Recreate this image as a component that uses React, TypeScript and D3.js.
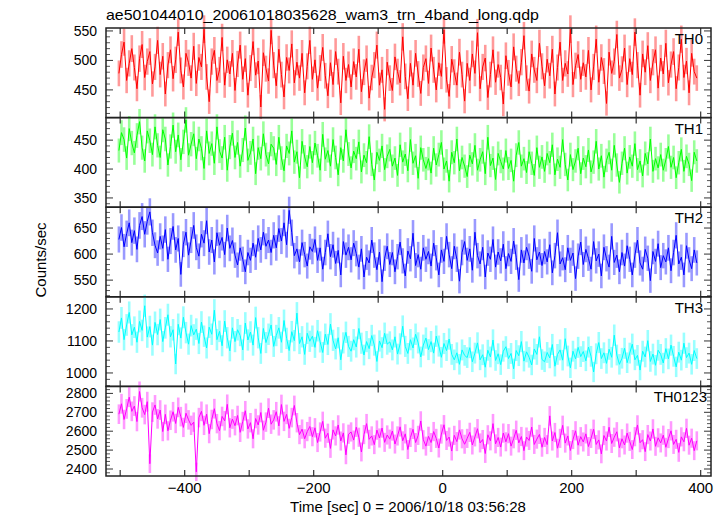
import React from "react";
import * as d3 from "d3";

const TITLE = "ae501044010_20061018035628_wam3_trn_4band_long.qdp";
const X_LABEL = "Time [sec] 0 = 2006/10/18 03:56:28";
const Y_LABEL = "Counts/sec";
const T_START = -502;
const T_STEP = 4;
const X_TICKS = [-500, -400, -300, -200, -100, 0, 100, 200, 300, 400];
const X_TICK_LABELS = [-400, -200, 0, 200, 400];

const th0 = [
  478, 510, 531, 466, 495, 520, 488, 452, 503, 527, 471, 498, 515, 460, 489,
  534, 476, 507, 443, 492, 518, 469, 501, 548, 483, 455, 512, 496, 470, 524,
  461, 505, 489, 553, 472, 430, 498, 517, 466, 484, 539, 458, 501, 477, 512,
  449, 494, 526, 468, 503, 441, 487, 532, 475, 499, 421, 513, 486, 465, 551,
  492, 457, 519, 476, 438, 505, 483, 528, 462, 497, 470, 512, 445, 490, 534,
  468, 501, 453, 487, 522, 474, 440, 496, 459, 515, 481, 428, 507, 466, 493,
  455, 498, 472, 519, 447, 480, 503, 436, 471, 492, 526, 458, 484, 417, 497,
  470, 449, 506, 481, 462, 540, 473, 435, 495, 458, 512, 477, 444, 488, 503,
  461, 521, 484, 450, 496, 473, 552, 467, 439, 502, 480, 458, 514, 476, 431,
  495, 466, 511, 478, 547, 452, 489, 504, 437, 476, 518, 463, 493, 471, 426,
  508, 479, 455, 523, 486, 461, 497, 542, 470, 448, 511, 484, 466, 529, 490,
  457, 502, 474, 519, 443, 488, 531, 466, 495, 477, 553, 459, 491, 510, 468,
  496, 472, 517, 450, 489, 536, 463, 505, 482, 427, 514, 478, 498, 544, 470,
  485, 521, 459, 503, 476, 548, 492, 441, 511, 480, 525, 466, 497, 518, 453,
  504, 477, 529, 462, 493, 515, 452, 488, 536, 471, 499, 445, 512, 481, 470,
];

const th1 = [
  432, 463, 451, 419, 470, 445, 428, 458, 482, 437, 414, 466, 449, 425, 473,
  441, 420, 468, 452, 407, 439, 476, 430, 459, 416, 447, 485, 424, 443, 461,
  418, 452, 436, 401, 466, 427, 444, 410, 473, 431, 419, 455, 398, 438, 462,
  420, 446, 405, 433, 471, 415, 428, 452, 392, 437, 418, 461, 425, 409, 443,
  436, 408, 455, 419, 397, 440, 427, 466, 412, 430, 385, 448, 421, 404, 439,
  411, 445, 423, 398, 460, 417, 432, 405, 451, 420, 390, 437, 414, 468, 426,
  402, 431, 418, 447, 395, 424, 411, 456, 408, 381, 429, 415, 440, 399, 422,
  434, 405, 419, 389, 442, 412, 426, 397, 451, 410, 423, 384, 437, 416, 401,
  418, 393, 436, 407, 425, 446, 400, 414, 379, 429, 411, 452, 397, 420, 405,
  387, 424, 409, 441, 398, 416, 430, 392, 455, 406, 419, 382, 427, 413, 400,
  432, 401, 415, 379, 424, 446, 405, 418, 394, 430, 410, 389, 437, 403, 421,
  396, 427, 411, 442, 390, 417, 403, 451, 408, 381, 425, 399, 414, 436, 392,
  419, 404, 433, 395, 412, 448, 400, 423, 386, 415, 429, 398, 441, 407, 377,
  410, 436, 393, 421, 405, 444, 399, 414, 388, 427, 409, 452, 396, 418, 402,
  425, 398, 416, 439, 403, 420, 385, 411, 434, 396, 422, 408, 380, 429, 414,
];

const th2 = [
  628, 651, 614, 639, 660, 622, 645, 609, 655, 672, 638, 663, 681, 641, 617,
  602, 634, 611, 647, 590, 625, 653, 608, 630, 561, 619, 642, 598, 627, 655,
  613, 596, 638, 621, 664, 604, 627, 585, 641, 617, 632, 599, 650, 611, 626,
  598, 579, 612, 590, 566, 603, 588, 621, 594, 630, 608, 642, 615, 627, 603,
  636, 612, 649, 625, 660, 618, 684, 641, 597, 610, 585, 622, 599, 577, 614,
  605, 628, 588, 612, 571, 603, 639, 595, 618, 582, 607, 560, 624, 598, 613,
  589, 621, 601, 575, 610, 556, 594, 583, 627, 598, 570, 604, 547, 592, 615,
  580, 603, 566, 595, 623, 587, 558, 606, 591, 640, 578, 599, 571, 612, 590,
  605, 577, 621, 593, 560, 608, 586, 634, 599, 572, 615, 590, 548, 603, 624,
  588, 610, 569, 642, 597, 581, 613, 556, 602, 590, 628, 575, 604, 587, 619,
  572, 601, 586, 625, 594, 551, 608, 583, 613, 596, 567, 630, 589, 604, 578,
  605, 585, 618, 564, 597, 641, 581, 593, 570, 612, 588, 602, 553, 596, 623,
  580, 609, 592, 571, 624, 587, 600, 558, 613, 591, 575, 634, 584, 598, 566,
  603, 577, 616, 590, 560, 598, 627, 583, 571, 609, 592, 549, 605, 586, 620,
  574, 597, 585, 612, 568, 603, 636, 581, 594, 560, 616, 589, 572, 608, 583,
];

const th3 = [
  1128, 1172, 1104, 1150, 1189, 1119, 1143, 1096, 1161, 1133, 1210, 1112, 1145, 1087, 1158,
  1120, 1167, 1098, 1141, 1182, 1113, 1135, 1028, 1152, 1109, 1174, 1126, 1090, 1148, 1119,
  1137, 1092, 1159, 1115, 1078, 1143, 1121, 1196, 1104, 1130, 1085, 1162, 1110, 1069, 1141,
  1098, 1135, 1117, 1072, 1156, 1103, 1128, 1087, 1173, 1110, 1061, 1139, 1095, 1121, 1150,
  1083, 1117, 1141, 1096, 1164, 1108, 1070, 1129, 1101, 1187, 1092, 1113, 1058, 1124, 1099,
  1115, 1080, 1132, 1097, 1064, 1121, 1089, 1153, 1102, 1075, 1110, 1041, 1094, 1127, 1083,
  1068, 1104, 1081, 1139, 1093, 1056, 1098, 1076, 1117, 1087, 1036, 1100, 1079, 1124, 1090,
  1097, 1072, 1113, 1059, 1091, 1146, 1083, 1061, 1104, 1078, 1121, 1094, 1050, 1087, 1109,
  1073, 1098, 1062, 1115, 1084, 1049, 1092, 1070, 1106, 1058, 1041, 1063, 1027, 1072, 1055,
  1048, 1079, 1035, 1062, 1094, 1041, 1057, 1018, 1071, 1050, 1103, 1039, 1060, 1026, 1068,
  1082, 1045, 1061, 1013, 1070, 1054, 1098, 1037, 1066, 1049, 1025, 1075, 1058, 1113, 1042,
  1035, 1064, 1047, 1089, 1021, 1058, 1072, 1040, 1107, 1053, 1016, 1068, 1044, 1080, 1051,
  1067, 1038, 1081, 1052, 1003, 1060, 1095, 1045, 1063, 1030, 1074, 1049, 1118, 1056, 1027,
  1046, 1077, 1032, 1062, 1090, 1041, 1055, 1009, 1068, 1050, 1101, 1036, 1059, 1024, 1071,
  1058, 1031, 1076, 1044, 1087, 1052, 1019, 1065, 1040, 1093, 1048, 1062, 1027, 1070, 1045,
];

const th0123 = [
  2690, 2745, 2662, 2718, 2780, 2705, 2733, 2651, 2810, 2724, 2688, 2756, 2428, 2701, 2739,
  2665, 2712, 2598, 2689, 2602, 2658, 2703, 2641, 2726, 2677, 2620, 2695, 2660, 2631, 2648,
  2385, 2672, 2705, 2631, 2690, 2587, 2662, 2719, 2640, 2603, 2678, 2655, 2742, 2618, 2664,
  2629, 2683, 2594, 2651, 2708, 2612, 2645, 2560, 2667, 2633, 2699, 2605, 2648, 2722, 2637,
  2660, 2703, 2628, 2741, 2652, 2689, 2615, 2672, 2736, 2645, 2582, 2611, 2560, 2598, 2625,
  2571, 2618, 2540, 2596, 2652, 2563, 2589, 2509, 2607, 2575, 2633, 2548, 2591, 2475, 2584,
  2596, 2553, 2621, 2568, 2490, 2582, 2640, 2557, 2575, 2529, 2606, 2564, 2617, 2541, 2580,
  2558, 2601, 2532, 2575, 2623, 2549, 2586, 2503, 2567, 2610, 2540, 2578, 2654, 2555, 2521,
  2573, 2540, 2598, 2562, 2511, 2585, 2634, 2551, 2569, 2495, 2578, 2545, 2607, 2560, 2531,
  2562, 2594, 2527, 2570, 2613, 2538, 2556, 2482, 2581, 2549, 2640, 2533, 2567, 2516, 2590,
  2544, 2587, 2521, 2560, 2605, 2538, 2572, 2497, 2569, 2551, 2622, 2530, 2558, 2583, 2515,
  2567, 2529, 2681, 2548, 2593, 2510, 2562, 2631, 2537, 2575, 2498, 2556, 2602, 2526, 2571,
  2543, 2586, 2519, 2562, 2610, 2530, 2554, 2480, 2577, 2548, 2621, 2535, 2568, 2597, 2512,
  2560, 2527, 2590, 2546, 2503, 2571, 2633, 2539, 2555, 2492, 2582, 2548, 2612, 2520, 2565,
  2538, 2579, 2515, 2561, 2602, 2530, 2557, 2488, 2570, 2544, 2615, 2526, 2563, 2497, 2549,
];

const PANEL_NAMES = ["TH0", "TH1", "TH2", "TH3", "TH0123"];
const PANEL_COLORS = ["#ff0000", "#00ff00", "#0000ff", "#00ffff", "#ff00ff"];
const PANEL_VALUES = [th0, th1, th2, th3, th0123];
const PANEL_DOMAINS = [
  [403, 555],
  [334, 489],
  [518, 690],
  [958, 1238],
  [2363, 2837],
];
const PANEL_MAJOR = [
  [450, 500, 550],
  [350, 400, 450],
  [550, 600, 650],
  [1000, 1100, 1200],
  [2400, 2500, 2600, 2700, 2800],
];
const PANEL_MINOR_STEP = [10, 10, 10, 20, 20];

const W = 724;
const H = 516;
const LEFT = 106;
const RIGHT = 711;
const TOP = 28;
const BOTTOM = 476;
const FONT = "'Liberation Sans', Arial, Helvetica, sans-serif";

export default function App() {
  const x = d3.scaleLinear().domain([-522, 416]).range([LEFT, RIGHT]);
  const panelH = (BOTTOM - TOP) / PANEL_NAMES.length;
  const binW = x(T_STEP) - x(0);
  const fmt = (v: number) => (v < 0 ? "\u2212" + Math.abs(v) : String(v));

  return (
    <svg
      width={W}
      height={H}
      style={{ position: "absolute", left: 0, top: 0, background: "#fff" }}
      fontFamily={FONT}
    >
      <rect x={0} y={0} width={W} height={H} fill="#fff" />
      {PANEL_NAMES.map((name, p) => {
        const y0 = TOP + p * panelH;
        const y1 = y0 + panelH;
        const vals = PANEL_VALUES[p];
        const y = d3
          .scaleLinear()
          .domain(PANEL_DOMAINS[p])
          .range([y1, y0]);
        const pts = vals.map((v, i) => ({ t: T_START + i * T_STEP, v }));
        const line = d3
          .line<{ t: number; v: number }>()
          .x((d) => x(d.t))
          .y((d) => y(d.v));
        const [dmin, dmax] = PANEL_DOMAINS[p];
        const minorTicks = d3
          .range(
            Math.ceil(dmin / PANEL_MINOR_STEP[p]) * PANEL_MINOR_STEP[p],
            dmax,
            PANEL_MINOR_STEP[p]
          )
          .filter((v) => !PANEL_MAJOR[p].includes(v));
        const color = PANEL_COLORS[p];
        return (
          <g key={name}>
            <g>
              {pts.map((d, i) => {
                const e = Math.sqrt(d.v);
                return (
                  <line
                    key={i}
                    x1={x(d.t)}
                    x2={x(d.t)}
                    y1={y(d.v - e)}
                    y2={y(d.v + e)}
                    stroke={color}
                    strokeOpacity={0.4}
                    strokeWidth={binW}
                  />
                );
              })}
              <path d={line(pts) || ""} fill="none" stroke={color} strokeWidth={1} />
            </g>
            {PANEL_MAJOR[p].map((v) => (
              <g key={"M" + v}>
                <line x1={LEFT} x2={LEFT + 7} y1={y(v)} y2={y(v)} stroke="#333" strokeWidth={1} />
                <line x1={RIGHT} x2={RIGHT - 7} y1={y(v)} y2={y(v)} stroke="#333" strokeWidth={1} />
                <text
                  x={97}
                  y={y(v)}
                  dy="0.36em"
                  textAnchor="end"
                  fontSize={14}
                  fill="#000"
                >
                  {v}
                </text>
              </g>
            ))}
            {minorTicks.map((v) => (
              <g key={"m" + v}>
                <line x1={LEFT} x2={LEFT + 4} y1={y(v)} y2={y(v)} stroke="#555" strokeWidth={1} />
                <line x1={RIGHT} x2={RIGHT - 4} y1={y(v)} y2={y(v)} stroke="#555" strokeWidth={1} />
              </g>
            ))}
            {X_TICKS.map((t) => (
              <g key={"x" + t}>
                <line x1={x(t)} x2={x(t)} y1={y0} y2={y0 + 6} stroke="#333" strokeWidth={1.2} />
                <line x1={x(t)} x2={x(t)} y1={y1} y2={y1 - 6} stroke="#333" strokeWidth={1.2} />
              </g>
            ))}
            <rect
              x={LEFT}
              y={y0}
              width={RIGHT - LEFT}
              height={panelH}
              fill="none"
              stroke="#222"
              strokeWidth={1.5}
            />
            <text
              x={p === 4 ? 707 : 703}
              y={y0 + 16}
              textAnchor="end"
              fontSize={15}
              fill="#000"
            >
              {name}
            </text>
          </g>
        );
      })}
      {X_TICK_LABELS.map((t) => (
        <text key={"xl" + t} x={x(t)} y={493} textAnchor="middle" fontSize={15} fill="#000">
          {fmt(t)}
        </text>
      ))}
      <text x={106} y={20} fontSize={15} textLength={433} lengthAdjust="spacingAndGlyphs" fill="#000">
        {TITLE}
      </text>
      <text
        transform={`translate(46, 260) rotate(-90)`}
        textAnchor="middle"
        fontSize={15}
        fill="#000"
      >
        {Y_LABEL}
      </text>
      <text x={408} y={512} textAnchor="middle" fontSize={15} fill="#000">
        {X_LABEL}
      </text>
    </svg>
  );
}
